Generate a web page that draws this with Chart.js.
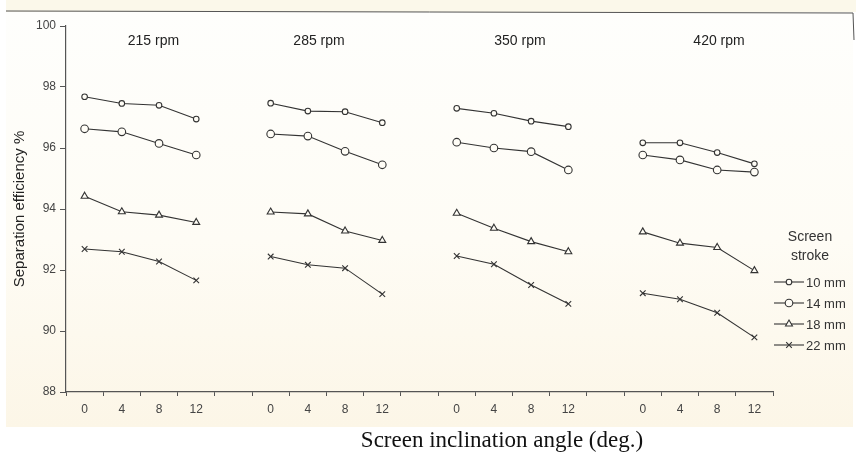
<!DOCTYPE html>
<html>
<head>
<meta charset="utf-8">
<script src="https://cdn.jsdelivr.net/npm/chart.js@4.4.1/dist/chart.umd.min.js"></script>
<style>
  html, body { margin: 0; padding: 0; background: #fff; }
  #wrap { width: 856px; height: 461px; position: relative; }
</style>
</head>
<body>
<div id="wrap"><canvas id="chart_separation"></canvas></div>
<script>
// inclination angles inside each speed group, and the speed groups
var angles = ['0', '4', '8', '12'];
var speeds = ['215 rpm', '285 rpm', '350 rpm', '420 rpm'];
var strokes = ['10 mm', '14 mm', '18 mm', '22 mm'];

// separation efficiency %, one row per speed group (angle 0, 4, 8, 12)
var stroke10 = [
    [97.68, 97.46, 97.40, 96.95],
    [97.47, 97.21, 97.19, 96.83],
    [97.30, 97.14, 96.88, 96.70],
    [96.17, 96.17, 95.85, 95.48]
];
var stroke14 = [
    [96.63, 96.53, 96.15, 95.77],
    [96.46, 96.39, 95.89, 95.45],
    [96.19, 96.00, 95.88, 95.28],
    [95.77, 95.61, 95.28, 95.21]
];
var stroke18 = [
    [94.42, 93.91, 93.80, 93.56],
    [93.90, 93.84, 93.28, 92.97],
    [93.86, 93.37, 92.93, 92.60],
    [93.25, 92.88, 92.74, 91.98]
];
var stroke22 = [
    [92.69, 92.60, 92.28, 91.66],
    [92.44, 92.17, 92.06, 91.21],
    [92.46, 92.19, 91.51, 90.89],
    [91.24, 91.04, 90.60, 89.79]
];

var yTicks = [88, 90, 92, 94, 96, 98, 100];

// one empty category between the speed groups
var labels = [];
speeds.forEach(function(s, g) {
    if (g > 0) labels.push('');
    angles.forEach(function(a) { labels.push(a); });
});
function flatten(rows) {
    var out = [];
    rows.forEach(function(r, g) {
        if (g > 0) out.push(null);
        r.forEach(function(v) { out.push(v); });
    });
    return out;
}

var markStyles = [
    { pointStyle: 'circle', radius: 2.8 },
    { pointStyle: 'circle', radius: 3.8 },
    { pointStyle: 'triangle', radius: 4 },
    { pointStyle: 'crossRot', radius: 4 }
];
var lineColor = '#333';
var markFill = '#fffdf6';

var datasets = [stroke10, stroke14, stroke18, stroke22].map(function(rows, i) {
    return {
        label: strokes[i],
        data: flatten(rows),
        borderColor: lineColor,
        borderWidth: 1.1,
        pointStyle: markStyles[i].pointStyle,
        pointRadius: markStyles[i].radius,
        pointBorderColor: lineColor,
        pointBackgroundColor: markFill,
        pointBorderWidth: 1.1,
        spanGaps: false,
        tension: 0
    };
});

var FONT = '"Liberation Sans", Arial, sans-serif';

var paperPlugin = {
    id: 'paper',
    beforeDraw: function(chart) {
        var ctx = chart.ctx;
        ctx.save();
        ctx.fillStyle = '#ffffff';
        ctx.fillRect(0, 0, chart.width, chart.height);
        ctx.fillStyle = '#fbf8ea';
        ctx.fillRect(6, 0, chart.width - 6, 12);
        var g = ctx.createLinearGradient(0, 12, 0, 427);
        g.addColorStop(0, '#fefefc');
        g.addColorStop(0.55, '#fefcf5');
        g.addColorStop(1, '#fcf6e7');
        ctx.fillStyle = g;
        ctx.fillRect(6, 12, 847, 415);
        ctx.strokeStyle = '#555';
        ctx.lineWidth = 1;
        ctx.beginPath();
        ctx.moveTo(6, 11);
        ctx.lineTo(853, 13);
        ctx.lineTo(854, 40);
        ctx.stroke();
        ctx.restore();
    }
};

var annotatePlugin = {
    id: 'annotate',
    afterDraw: function(chart) {
        var ctx = chart.ctx;
        var x = chart.scales.x;
        var shift = [0.35, -0.2, 0.2, 0.55];
        ctx.save();
        ctx.fillStyle = '#222';
        ctx.textAlign = 'center';
        ctx.textBaseline = 'middle';
        ctx.font = '14px ' + FONT;
        speeds.forEach(function(s, g) {
            ctx.fillText(s, x.getPixelForValue(g * 5 + 1.5 + shift[g]), 41);
        });

        // x axis title
        ctx.fillStyle = '#111';
        ctx.font = '23px "Liberation Serif", "Times New Roman", serif';
        ctx.fillText('Screen inclination angle (deg.)', 502, 441);

        // legend
        ctx.fillStyle = '#333';
        ctx.font = '14px ' + FONT;
        ctx.fillText('Screen', 810, 237);
        ctx.fillText('stroke', 810, 256);
        ctx.font = '13px ' + FONT;
        chart.data.datasets.forEach(function(ds, i) {
            var y = 282 + i * 21;
            ctx.strokeStyle = lineColor;
            ctx.lineWidth = 1.1;
            ctx.beginPath();
            ctx.moveTo(774, y);
            ctx.lineTo(804, y);
            ctx.stroke();
            ctx.fillStyle = markFill;
            Chart.helpers.drawPoint(ctx, {
                pointStyle: ds.pointStyle,
                radius: ds.pointRadius,
                rotation: 0,
                borderWidth: 1.1
            }, 789, y);
            ctx.fillStyle = '#333';
            ctx.textAlign = 'left';
            ctx.fillText(ds.label, 806, y + 1);
        });
        ctx.restore();
    }
};

var chart_separation = new Chart(document.getElementById('chart_separation'), {
    type: 'line',
    data: {
        labels: labels,
        datasets: datasets
    },
    options: {
        animation: false,
        responsive: true,
        maintainAspectRatio: false,
        layout: {
            padding: { top: 26, right: 83, bottom: 0, left: 0 }
        },
        plugins: {
            legend: { display: false },
            tooltip: { enabled: false }
        },
        scales: {
            x: {
                type: 'category',
                offset: true,
                afterFit: function(scale) { scale.height = 69; },
                grid: {
                    offset: true,
                    drawOnChartArea: false,
                    tickLength: 4,
                    color: '#555'
                },
                border: { color: '#555', width: 1.2 },
                ticks: {
                    autoSkip: false,
                    maxRotation: 0,
                    padding: 6,
                    color: '#444',
                    font: { family: FONT, size: 12 }
                }
            },
            y: {
                type: 'linear',
                min: yTicks[0],
                max: yTicks[yTicks.length - 1],
                afterFit: function(scale) { scale.width = 66; },
                afterBuildTicks: function(scale) {
                    scale.ticks = yTicks.map(function(v) { return { value: v }; });
                },
                grid: {
                    drawOnChartArea: false,
                    tickLength: 6,
                    color: '#555'
                },
                border: { color: '#555', width: 1.2 },
                ticks: {
                    padding: 4,
                    color: '#444',
                    font: { family: FONT, size: 12 }
                },
                title: {
                    display: true,
                    text: 'Separation efficiency %',
                    color: '#222',
                    padding: { top: 11, bottom: 0 },
                    font: { family: FONT, size: 15 }
                }
            }
        }
    },
    plugins: [paperPlugin, annotatePlugin]
});
</script>
</body>
</html>
